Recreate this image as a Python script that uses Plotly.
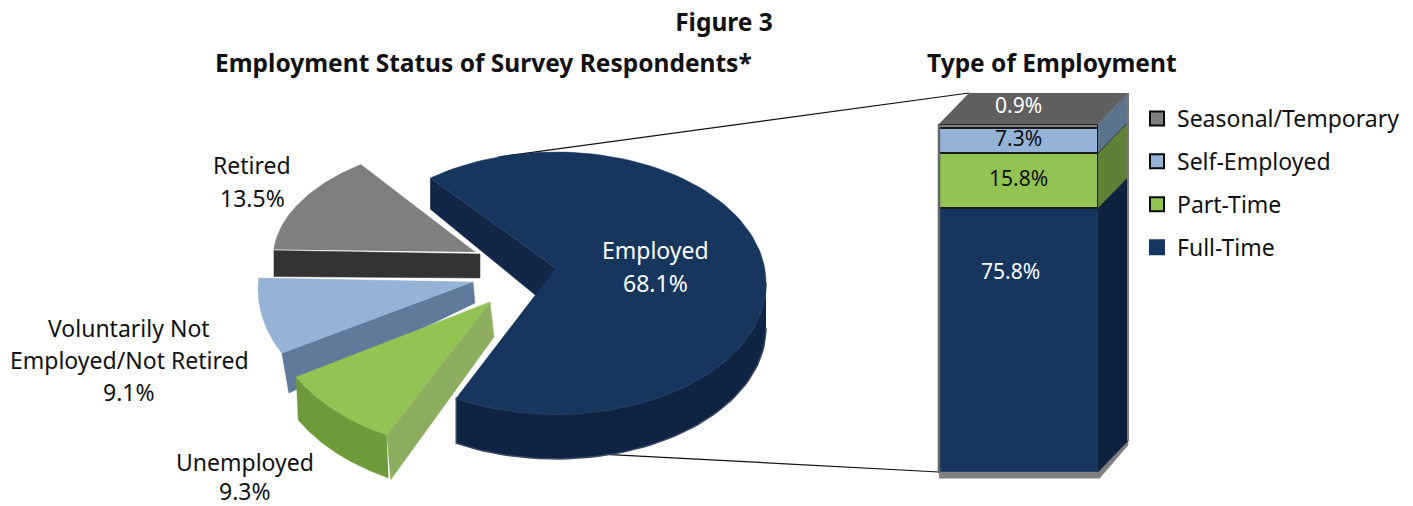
import math
import plotly.graph_objects as go

# ---- data ----
status_names = ["Employed", "Unemployed", "Voluntarily Not<br>Employed/Not Retired", "Retired"]
status_values = [68.1, 9.3, 9.1, 13.5]
type_names = ["Full-Time", "Part-Time", "Self-Employed", "Seasonal/Temporary"]
type_values = [75.8, 15.8, 7.3, 0.9]

# ---- styling ----
FONT = "Noto Sans"
SZ = 23
W, H = 1413, 506
START = 126.8  # parameter angle at which the Employed slice starts (clockwise)

pie_geom = {
    "Employed": dict(c=(556, 283), r=(210, 131), apex=(556, 268), top="#17365d", rim="#0f2445", side="#12264a"),
    "Unemployed": dict(c=(492, 310), r=(222, 142), apex=(490, 302), top="#92c353", rim="#6f9a3c", side="#8dae5e"),
    "Vol": dict(c=(458, 289), r=(200, 136), apex=(473, 282), top="#95b3d7", rim="#5f7a9a", side="#5f7a9a"),
    "Retired": dict(c=(492, 259), r=(219, 118), apex=(475, 252), top="#7f7f7f", rim="#333333", side="#333333"),
}
geom_keys = ["Employed", "Unemployed", "Vol", "Retired"]
type_top = ["#17365d", "#92c353", "#95b3d7", "#7f7f7f"]
type_side = ["#0e2140", "#627f38", "#5b7590"]
type_line = ["#17365d", "#1a1a1a", "#1a1a1a", "#1a1a1a"]
legend_line = ["#17365d", "#0a0a0a", "#0a0a0a", "#0a0a0a"]

fig = go.Figure()


def arc(g, t0, t1, n=60):
    cx, cy = g["c"]
    rx, ry = g["r"]
    pts = [t0 + (t1 - t0) * i / n for i in range(n + 1)]
    return [cx + rx * math.cos(math.radians(t)) for t in pts], [cy - ry * math.sin(math.radians(t)) for t in pts]


def poly(xs, ys, color, xa="x", ya="y", line=None, lw=0.5):
    fig.add_trace(go.Scatter(x=xs, y=ys, mode="lines", fill="toself", fillcolor=color,
                             line=dict(color=line or color, width=lw), xaxis=xa, yaxis=ya,
                             hoverinfo="skip", showlegend=False))


# slice angles from the values
angles = {}
t = START
for k, v in zip(geom_keys, status_values):
    angles[k] = (t, t - v * 3.6)
    t -= v * 3.6


def bar_px(x, pct):
    return 939 + x * 159, 472 - pct * 3.48


DX, DY = 30 / 159, 31 / 3.48

# connectors run from the pie rim to the bar's corners
g = pie_geom["Employed"]
x0, y0 = arc(g, 106, 106, 1)
p = bar_px(DX, 100 + DY)
fig.add_trace(go.Scatter(x=[x0[0], p[0]], y=[y0[0], p[1]], mode="lines", line=dict(color="#111", width=1.2),
                         hoverinfo="skip", showlegend=False))
x1, y1 = arc(g, -75, -75, 1)
p = bar_px(0, 0)
fig.add_trace(go.Scatter(x=[x1[0], p[0]], y=[y1[0] + 45, p[1]], mode="lines", line=dict(color="#111", width=1.2),
                         hoverinfo="skip", showlegend=False))

# Retired
g = pie_geom["Retired"]
t0, t1 = angles["Retired"]
xs, ys = arc(g, t0, t1)
poly([xs[0], g["apex"][0] + 5, g["apex"][0] + 5, xs[0]], [ys[0] + 1, g["apex"][1] + 2, g["apex"][1] + 26, ys[0] + 27], g["side"])
poly(xs + [g["apex"][0]], ys + [g["apex"][1]], g["top"])

# Voluntarily not employed
g = pie_geom["Vol"]
t0, t1 = angles["Vol"]
xs, ys = arc(g, t0, t1)
poly([xs[0], g["apex"][0], g["apex"][0] + 2, xs[0] + 7], [ys[0], g["apex"][1], g["apex"][1] + 21, ys[0] + 40], g["side"])
poly(xs + [g["apex"][0]], ys + [g["apex"][1]], g["top"])

# Unemployed
g = pie_geom["Unemployed"]
t0, t1 = angles["Unemployed"]
xs, ys = arc(g, t0, t1)
poly(xs + [x + 2 for x in xs[::-1]], ys + [y + 43 for y in ys[::-1]], g["rim"])
poly([xs[0], g["apex"][0], g["apex"][0] + 4, xs[0] + 4], [ys[0], g["apex"][1], g["apex"][1] + 35, ys[0] + 45], g["side"])
poly(xs + [g["apex"][0]], ys + [g["apex"][1]], g["top"])

# Employed
g = pie_geom["Employed"]
t0, t1 = angles["Employed"]
xs, ys = arc(g, t0, t1, 120)
wx, wy = arc(g, 0, t1, 60)
poly(wx + wx[::-1], wy + [y + 45 for y in wy[::-1]], g["rim"], line="#3b4a63", lw=1.5)
poly([xs[0], g["apex"][0], g["apex"][0], xs[0]], [ys[0], g["apex"][1], g["apex"][1] + 44, ys[0] + 31], g["side"])
poly(xs + [g["apex"][0]], ys + [g["apex"][1]], g["top"])

# stacked bar
for name, v, col, ln in zip(type_names, type_values, type_top, type_line):
    fig.add_trace(go.Bar(x=[0.5], y=[v], width=1, name=name, xaxis="x2", yaxis="y2", showlegend=False,
                         marker=dict(color=col, line=dict(color=ln, width=1.5)), hoverinfo="skip"))

# legend entries (top to bottom: last series first)
for i, (name, col, ln) in enumerate(zip(type_names, type_top, legend_line)):
    fig.add_trace(go.Scatter(x=[None], y=[None], mode="markers", name=name, legendgroup=name, legendrank=10 - i,
                             marker=dict(symbol="square", size=14, color=col, line=dict(color=ln, width=2)), hoverinfo="skip"))

# bar: floor shadow, left edge, side faces, top face
poly([0, 1, 1 + DX, 1 + DX, 1.01, 0], [0, 0, DY, DY - 1.2, -1.8, -1.8], "#7f7f7f", "x2", "y2")
fig.add_trace(go.Scatter(x=[0, 0], y=[0, 100], mode="lines", line=dict(color="#666", width=2.5), xaxis="x2", yaxis="y2",
                         hoverinfo="skip", showlegend=False))
lo = 0
for v, col in zip(type_values[:3], type_side):
    hi = lo + v
    poly([1, 1 + DX, 1 + DX, 1], [lo, lo + DY, hi + DY, hi], col, "x2", "y2", line="#1a1a1a" if lo else col, lw=0.6)
    lo = hi
poly([1, 1 + DX, 1 + DX, 1], [lo, lo + DY, 100 + DY, 100], "#5b7590", "x2", "y2")
poly([0, 1, 1 + DX, DX], [100, 100, 100 + DY, 100 + DY], "#5f5f5f", "x2", "y2")
fig.add_trace(go.Scatter(x=[1 + DX, 1 + DX], y=[DY, 100 + DY], mode="lines", line=dict(color="#777", width=2), xaxis="x2",
                         yaxis="y2", hoverinfo="skip", showlegend=False))

# labels: each line is placed separately to get the reference's line spacing
pie_label_pos = [(655, 250), (245, 462), (129, 328), (252, 165)]
pie_label_lead = [32.5, 29, 32, 32.5]
pie_label_col = ["white", "#111", "#111", "#111"]
annotations = []
for n, v, (lx, ly), lead, c in zip(status_names, status_values, pie_label_pos, pie_label_lead, pie_label_col):
    for j, line in enumerate(f"{n}<br>{v}%".split("<br>")):
        annotations.append(dict(x=lx, y=ly + j * lead, xref="x", yref="y", text=line, showarrow=False, yanchor="middle",
                                font=dict(family=FONT, size=SZ, color=c), align="center"))
bar_label_pos = [(0.45, 57.8), (0.5, 84.5), (0.5, 96.0)]
bar_label_col = ["white", "#111", "#111"]
for v, (lx, ly), c in zip(type_values, bar_label_pos, bar_label_col):
    annotations.append(dict(x=lx, y=ly, xref="x2", yref="y2", text=f"{v}%", showarrow=False,
                            font=dict(family=FONT, size=SZ - 2, color=c)))
annotations.append(dict(x=0.5, y=100 + DY * 0.6, xref="x2", yref="y2", text=f"{type_values[3]}%", showarrow=False,
                        font=dict(family=FONT, size=SZ - 2, color="white")))
annotations.append(dict(x=483, y=62, xref="x", yref="y", text="<b>Employment Status of Survey Respondents*</b>",
                        showarrow=False, font=dict(family=FONT, size=24.5, color="#111")))
annotations.append(dict(x=1052, y=62, xref="x", yref="y", text="<b>Type of Employment</b>",
                        showarrow=False, font=dict(family=FONT, size=24.5, color="#111")))

fig.update_layout(
    width=W, height=H, autosize=False, margin=dict(l=0, r=0, t=0, b=0),
    paper_bgcolor="white", plot_bgcolor="rgba(0,0,0,0)", barmode="stack", font=dict(family=FONT, size=SZ, color="#111"),
    title=dict(text="<b>Figure 3</b>", x=724 / W, xanchor="center", y=1 - 22 / H, yanchor="middle",
               font=dict(family=FONT, size=24.5, color="#111")),
    xaxis=dict(range=[0, W], domain=[0, 1], visible=False, fixedrange=True),
    yaxis=dict(range=[H, 0], domain=[0, 1], visible=False, fixedrange=True),
    xaxis2=dict(range=[-3 / 159, 192 / 159], domain=[936 / W, 1131 / W], visible=False, fixedrange=True, anchor="y2"),
    yaxis2=dict(range=[-8 / 3.48, 100 + DY], domain=[(H - 480) / H, (H - 93) / H], visible=False, fixedrange=True, anchor="x2"),
    legend=dict(x=1137 / W, y=1 - 97 / H, xanchor="left", yanchor="top", tracegroupgap=10, itemsizing="trace",
                bgcolor="rgba(0,0,0,0)", font=dict(family=FONT, size=SZ, color="#111")),
    annotations=annotations, showlegend=True,
)
fig.write_html("out.html", post_script="document.body.style.margin='0';", config={"displayModeBar": False})
